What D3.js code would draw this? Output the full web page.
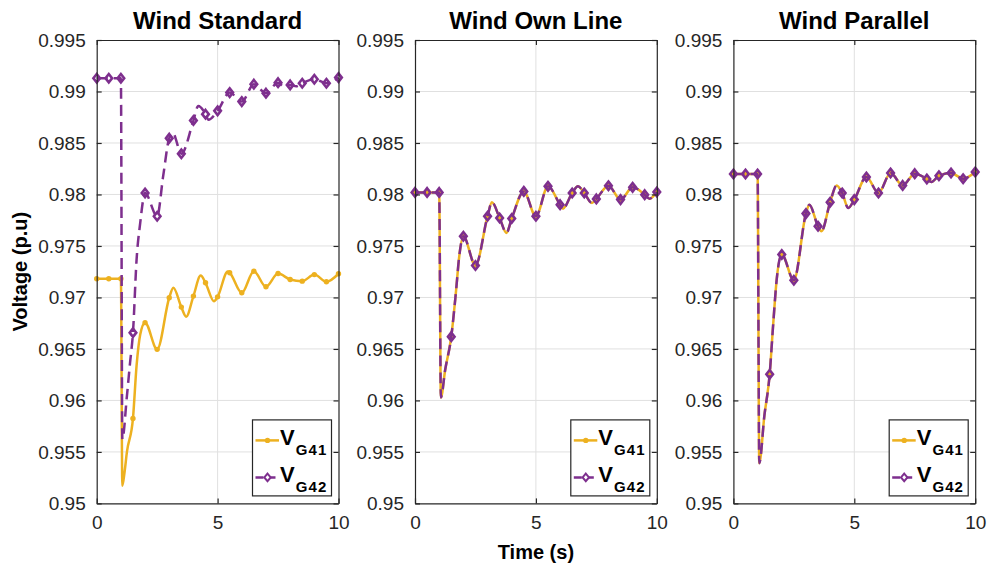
<!DOCTYPE html>
<html>
<head>
<meta charset="utf-8">
<script src="https://cdn.jsdelivr.net/npm/d3@7"></script>
<style>
  body { margin: 0; background: #fff; }
  svg { display: block; font-family: "Liberation Sans", Arial, Helvetica, sans-serif; }
</style>
</head>
<body>
<svg id="chart" width="991" height="570"></svg>
<script>
// ---- data ---------------------------------------------------------------
const panelTitles = ["Wind Standard", "Wind Own Line", "Wind Parallel"];
const seriesLabels = ["G41", "G42"];
const yTickValues = [0.95, 0.955, 0.96, 0.965, 0.97, 0.975, 0.98, 0.985, 0.99, 0.995];
const xTickValues = [0, 5, 10];

// Wind Standard
const timeStdG41 = [0, 0.5, 1.0, 1.06, 1.15, 1.25, 1.5, 1.65, 1.8, 2.0, 2.5, 3.0, 3.17, 3.5, 3.7, 4.0, 4.3, 4.5, 4.85, 5.0, 5.42, 5.5, 6.0, 6.5, 7.0, 7.5, 8.0, 8.5, 9.0, 9.5, 10];
const voltStdG41 = [0.97181, 0.97181, 0.97181, 0.95171, 0.9530, 0.9550, 0.95825, 0.9634, 0.9664, 0.96755, 0.96496, 0.96997, 0.97094, 0.96906, 0.96813, 0.97013, 0.97213, 0.97142, 0.96964, 0.97006, 0.97252, 0.9724, 0.97045, 0.97255, 0.97104, 0.97232, 0.97174, 0.97158, 0.97222, 0.97152, 0.9723];
const timeStdG42 = [0, 0.5, 1.0, 1.06, 1.25, 1.38, 1.5, 1.65, 1.8, 2.0, 2.5, 2.75, 3.0, 3.15, 3.5, 4.0, 4.2, 4.5, 4.62, 5.0, 5.5, 6.0, 6.5, 7.0, 7.5, 7.75, 8.0, 8.25, 8.5, 9.0, 9.5, 10];
const voltStdG42 = [0.99129, 0.99129, 0.99129, 0.95624, 0.96044, 0.96367, 0.96658, 0.9737, 0.97724, 0.98014, 0.97788, 0.9818, 0.98547, 0.98596, 0.98395, 0.98718, 0.9886, 0.9878, 0.98725, 0.98812, 0.98989, 0.98902, 0.99071, 0.98984, 0.99086, 0.99045, 0.99064, 0.9905, 0.9908, 0.99119, 0.9908, 0.99135];

// Wind Own Line
const timeOwnG41 = [0, 0.5, 1.0, 1.07, 1.25, 1.5, 1.69, 1.83, 2.0, 2.5, 3.0, 3.18, 3.5, 3.78, 4.0, 4.5, 5.0, 5.5, 6.0, 6.12, 6.5, 6.74, 7.0, 7.32, 7.5, 8.0, 8.5, 9.0, 9.5, 9.7, 10];
const voltOwnG41 = [0.9802, 0.9802, 0.9802, 0.96028, 0.9630, 0.96619, 0.97045, 0.974, 0.97594, 0.9731, 0.97788, 0.97924, 0.97772, 0.97627, 0.97766, 0.9803, 0.97788, 0.98079, 0.97901, 0.97862, 0.98014, 0.98079, 0.98014, 0.97918, 0.97957, 0.98085, 0.9795, 0.98069, 0.97998, 0.97959, 0.98024];
const timeOwnG42 = [0, 0.5, 1.0, 1.07, 1.25, 1.5, 1.69, 1.83, 2.0, 2.5, 3.0, 3.18, 3.5, 3.78, 4.0, 4.5, 5.0, 5.5, 6.0, 6.12, 6.5, 6.74, 7.0, 7.32, 7.5, 8.0, 8.5, 9.0, 9.5, 9.7, 10];
const voltOwnG42 = [0.9802, 0.9802, 0.9802, 0.96028, 0.9630, 0.96619, 0.97045, 0.974, 0.97594, 0.9731, 0.97788, 0.97924, 0.97772, 0.97627, 0.97766, 0.9803, 0.97788, 0.98079, 0.97901, 0.97862, 0.98014, 0.98079, 0.98014, 0.97918, 0.97957, 0.98085, 0.9795, 0.98069, 0.97998, 0.97959, 0.98024];

// Wind Parallel
const timeParG41 = [0, 0.5, 1.0, 1.07, 1.28, 1.5, 1.65, 1.79, 2.0, 2.5, 3.0, 3.14, 3.5, 3.64, 4.0, 4.27, 4.5, 4.75, 5.0, 5.5, 6.0, 6.5, 7.0, 7.5, 8.0, 8.19, 8.5, 9.0, 9.5, 10];
const voltParG41 = [0.98199, 0.98199, 0.98199, 0.95391, 0.9585, 0.96254, 0.96754, 0.97174, 0.97417, 0.97167, 0.97814, 0.97901, 0.97691, 0.97643, 0.97924, 0.98088, 0.98014, 0.97869, 0.9795, 0.9817, 0.98014, 0.98208, 0.98088, 0.98202, 0.9815, 0.98121, 0.98182, 0.98208, 0.98153, 0.98218];
const timeParG42 = [0, 0.5, 1.0, 1.07, 1.28, 1.5, 1.65, 1.79, 2.0, 2.5, 3.0, 3.14, 3.5, 3.64, 4.0, 4.27, 4.5, 4.75, 5.0, 5.5, 6.0, 6.5, 7.0, 7.5, 8.0, 8.19, 8.5, 9.0, 9.5, 10];
const voltParG42 = [0.98199, 0.98199, 0.98199, 0.95391, 0.9585, 0.96254, 0.96754, 0.97174, 0.97417, 0.97167, 0.97814, 0.97901, 0.97691, 0.97643, 0.97924, 0.98088, 0.98014, 0.97869, 0.9795, 0.9817, 0.98014, 0.98208, 0.98088, 0.98202, 0.9815, 0.98121, 0.98182, 0.98208, 0.98153, 0.98218];

// ---- layout -------------------------------------------------------------
const panelLefts = [96.7, 415, 733.4];
const panelWidth = 241.8;
const plotTop = 40, plotBottom = 503.4;
const colors = { G41: "#EDB120", G42: "#7E2F8E" };
const axisColor = "#262626";
const gridColor = "#e0e0e0";
const dash = "11,6";

const panels = [
  { G41: [timeStdG41, voltStdG41], G42: [timeStdG42, voltStdG42] },
  { G41: [timeOwnG41, voltOwnG41], G42: [timeOwnG42, voltOwnG42] },
  { G41: [timeParG41, voltParG41], G42: [timeParG42, voltParG42] }
];

const svg = d3.select("#chart");
const y = d3.scaleLinear().domain([0.95, 0.995]).range([plotBottom, plotTop]);
const fmtY = d => String(+d.toFixed(3));

function diamondPath(hw, hh) {
  return `M0,${-hh}L${hw},0L0,${hh}L${-hw},0Z`;
}

panels.forEach((panel, i) => {
  const x0 = panelLefts[i], x1 = x0 + panelWidth;
  const x = d3.scaleLinear().domain([0, 10]).range([x0, x1]);
  const g = svg.append("g");

  // grid
  g.append("g").selectAll("line").data(yTickValues.slice(1, -1)).join("line")
    .attr("x1", x0).attr("x2", x1)
    .attr("y1", d => y(d)).attr("y2", d => y(d))
    .attr("stroke", gridColor).attr("stroke-width", 1);
  g.append("g").selectAll("line").data(xTickValues.slice(1, -1)).join("line")
    .attr("y1", plotTop).attr("y2", plotBottom)
    .attr("x1", d => x(d)).attr("x2", d => x(d))
    .attr("stroke", gridColor).attr("stroke-width", 1);

  // series
  seriesLabels.forEach(name => {
    const [ts, vs] = panel[name];
    const pts = ts.map((t, k) => ({ t, v: vs[k] }));
    const line = d3.line().x(d => x(d.t)).y(d => y(d.v)).curve(d3.curveMonotoneX);
    g.append("path").datum(pts)
      .attr("d", line)
      .attr("fill", "none")
      .attr("stroke", colors[name])
      .attr("stroke-width", 2.5)
      .attr("stroke-linejoin", "round")
      .attr("stroke-dasharray", name === "G42" ? dash : null);

    // markers every 0.5 s
    const marks = pts.filter(d => Math.abs(d.t * 2 - Math.round(d.t * 2)) < 1e-9);
    if (name === "G41") {
      g.append("g").selectAll("circle").data(marks).join("circle")
        .attr("cx", d => x(d.t)).attr("cy", d => y(d.v)).attr("r", 2.7)
        .attr("fill", colors[name]);
    } else {
      g.append("g").selectAll("path").data(marks).join("path")
        .attr("transform", d => `translate(${x(d.t)},${y(d.v)})`)
        .attr("d", diamondPath(3.3, 4.2))
        .attr("fill", "none").attr("stroke", colors[name]).attr("stroke-width", 2.6);
    }
  });

  // axes (ticks pointing inward on all four sides)
  const left = g.append("g").attr("transform", `translate(${x0},0)`)
    .call(d3.axisLeft(y).tickValues(yTickValues).tickFormat(fmtY).tickSizeInner(-5).tickSizeOuter(0).tickPadding(11));
  const right = g.append("g").attr("transform", `translate(${x1},0)`)
    .call(d3.axisRight(y).tickValues(yTickValues).tickFormat("").tickSizeInner(-5).tickSizeOuter(0));
  const bottom = g.append("g").attr("transform", `translate(0,${plotBottom})`)
    .call(d3.axisBottom(x).tickValues(xTickValues).tickFormat(d3.format("d")).tickSizeInner(-5).tickSizeOuter(0).tickPadding(12));
  const top = g.append("g").attr("transform", `translate(0,${plotTop})`)
    .call(d3.axisTop(x).tickValues(xTickValues).tickFormat("").tickSizeInner(-5).tickSizeOuter(0));
  [left, right, bottom, top].forEach(a => {
    a.select(".domain").attr("stroke", axisColor).attr("stroke-width", 1.2);
    a.selectAll(".tick line").attr("stroke", axisColor).attr("stroke-width", 1.2);
    a.selectAll("text").attr("fill", "#262626").style("font-size", "19px")
      .style("font-family", '"Liberation Sans", Arial, sans-serif');
  });

  // title
  svg.append("text")
    .attr("x", (x0 + x1) / 2).attr("y", 29)
    .attr("text-anchor", "middle")
    .style("font-size", "24px").style("font-weight", "bold").attr("fill", "#000")
    .text(panelTitles[i]);

  // legend
  const lw = 79, lh = 76;
  const lx = x1 - 7 - lw, ly = plotBottom - 7.5 - lh;
  const leg = svg.append("g").attr("transform", `translate(${lx},${ly})`);
  leg.append("rect").attr("width", lw).attr("height", lh)
    .attr("fill", "#fff").attr("stroke", axisColor).attr("stroke-width", 1.2);
  seriesLabels.forEach((name, k) => {
    const cy = 20.5 + k * 37;
    leg.append("line").attr("x1", 3).attr("x2", 26.5).attr("y1", cy).attr("y2", cy)
      .attr("stroke", colors[name]).attr("stroke-width", 2.5)
      .attr("stroke-dasharray", name === "G42" ? "8,4" : null);
    if (name === "G41") {
      leg.append("circle").attr("cx", 15).attr("cy", cy).attr("r", 2.7).attr("fill", colors[name]);
    } else {
      leg.append("path").attr("transform", `translate(15,${cy})`)
        .attr("d", diamondPath(3.2, 3.8)).attr("fill", "#fff")
        .attr("stroke", colors[name]).attr("stroke-width", 2);
    }
    const t = leg.append("text").attr("x", 27.5).attr("y", cy + 4.3)
      .attr("fill", "#000").style("font-weight", "bold");
    t.append("tspan").style("font-size", "22px").text("V");
    t.append("tspan").attr("dy", 10).attr("dx", 1)
      .style("font-size", "15px").style("letter-spacing", "1.1px").text(name);
  });
});

// shared axis labels
svg.append("text")
  .attr("transform", `translate(27,${(plotTop + plotBottom) / 2}) rotate(-90)`)
  .attr("text-anchor", "middle")
  .style("font-size", "20px").style("font-weight", "bold").attr("fill", "#000")
  .text("Voltage (p.u)");
svg.append("text")
  .attr("x", panelLefts[1] + panelWidth / 2).attr("y", 559)
  .attr("text-anchor", "middle")
  .style("font-size", "20px").style("font-weight", "bold").attr("fill", "#000")
  .text("Time (s)");
</script>
</body>
</html>
